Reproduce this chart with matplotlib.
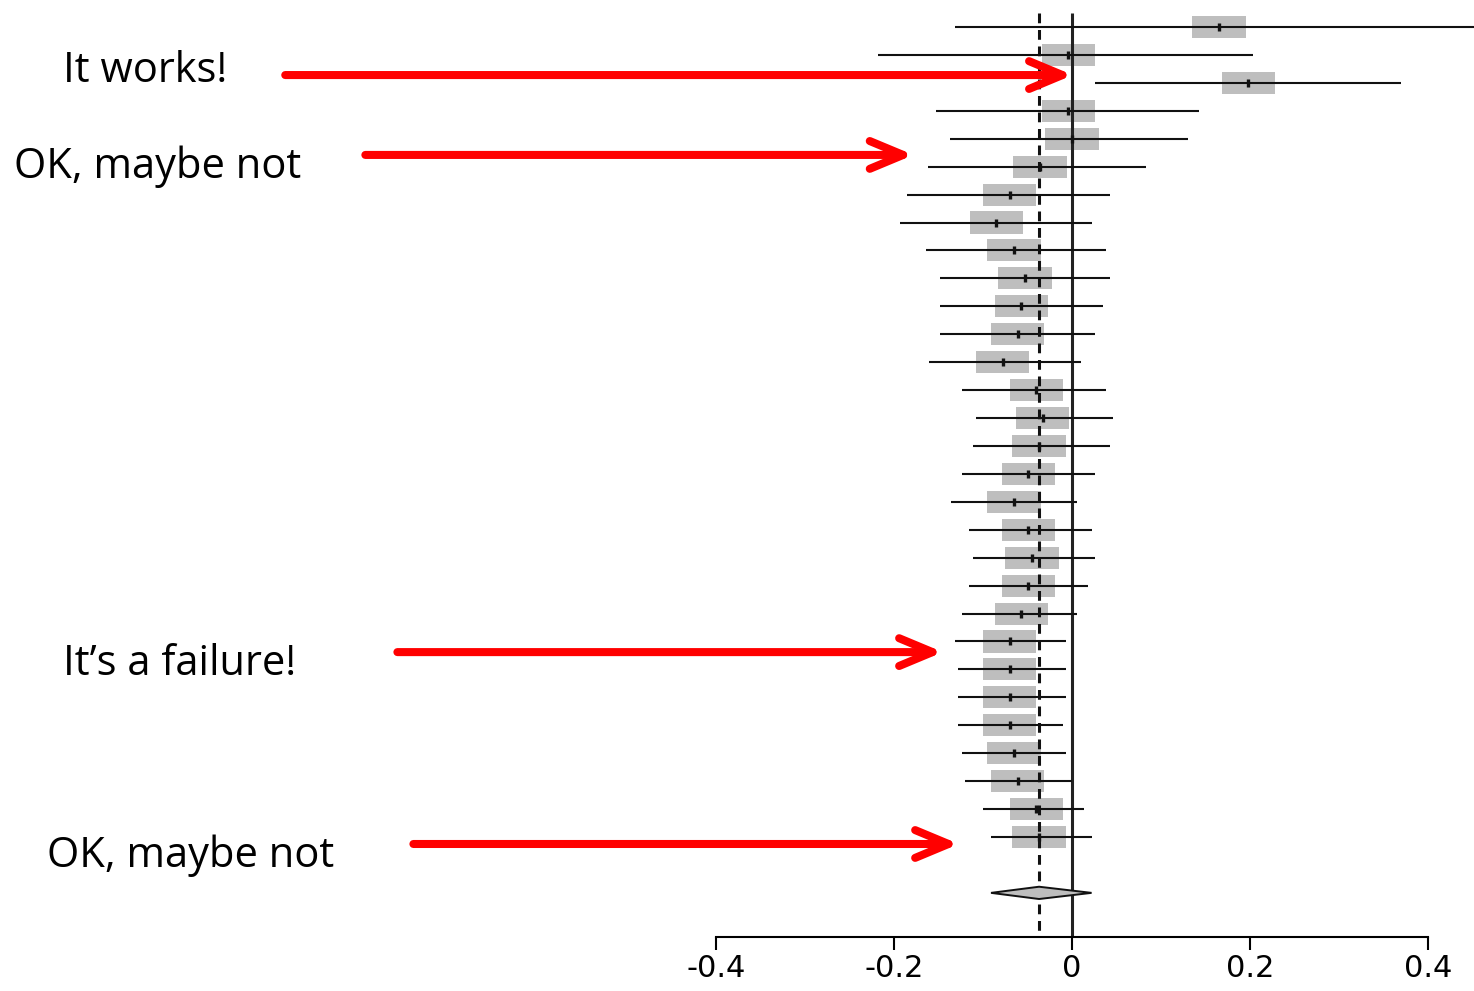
import numpy as np
import matplotlib
matplotlib.use("Agg")
import matplotlib.pyplot as plt
from matplotlib.patches import Rectangle, Polygon

plt.rcParams.update({"axes.unicode_minus": False, "font.family": "DejaVu Sans"})

# study estimates and 95% CIs, top to bottom (first upper limit runs off the page)
est = [0.165, -0.004, 0.198, -0.004, 0.000, -0.036, -0.070, -0.085, -0.065, -0.053,
       -0.057, -0.061, -0.078, -0.040, -0.033, -0.037, -0.049, -0.065, -0.049, -0.045,
       -0.049, -0.057, -0.070, -0.070, -0.070, -0.070, -0.065, -0.061, -0.040, -0.037]
lo = [-0.131, -0.218, 0.026, -0.153, -0.137, -0.162, -0.185, -0.193, -0.164, -0.148,
      -0.148, -0.148, -0.161, -0.124, -0.108, -0.111, -0.124, -0.136, -0.116, -0.111,
      -0.116, -0.124, -0.131, -0.128, -0.128, -0.128, -0.124, -0.120, -0.100, -0.091]
hi = [0.480, 0.203, 0.370, 0.143, 0.130, 0.083, 0.043, 0.022, 0.038, 0.043,
      0.035, 0.026, 0.010, 0.038, 0.046, 0.043, 0.026, 0.006, 0.022, 0.026,
      0.018, 0.006, -0.007, -0.007, -0.007, -0.010, -0.007, 0.000, 0.013, 0.022]
pooled = (-0.037, -0.091, 0.022)
ticks = [-0.4, -0.2, 0, 0.2, 0.4]
tick_labels = ["-0.4", "-0.2", "0", "0.2", "0.4"]

# annotations: label, label px (left, baseline), arrow row, tail x, tip x
notes = [("It works!", (63, 82), 1.72, -0.884, 0.001),
         ("OK, maybe not", (14, 178), 4.58, -0.794, -0.178),
         ("It\u2019s a failure!", (63, 675), 22.38, -0.758, -0.145),
         ("OK, maybe not", (47, 867), 29.25, -0.740, -0.127)]

W, H = 1474, 991
fig = plt.figure(figsize=(W/100, H/100), dpi=100)
ax = fig.add_axes([716/W, 1-937/H, 712/W, 937/H])
ax.set_xlim(-0.4, 0.4)
ax.set_ylim(32.58, -0.967)

rows = np.arange(len(est))
n_sum = len(est) + 1
bw, bh = 0.06, 0.79
for r, e in zip(rows, est):
    ax.add_patch(Rectangle((e-bw/2, r-bh/2), bw, bh, fc="#bebebe", ec="none", zorder=1))
ax.hlines(rows, lo, hi, color="#111111", lw=1.5, zorder=3, clip_on=False)
ax.plot(est, rows, ls="none", marker="|", ms=6, mew=2.4, color="#111111", zorder=4)

e, l, h = pooled
ax.add_patch(Polygon([(l, n_sum), (e, n_sum-0.22), (h, n_sum), (e, n_sum+0.22)],
                     closed=True, fc="#bebebe", ec="#111111", lw=1.4, zorder=3))

ax.vlines(0, -0.5, 32.58, color="#222222", lw=2.2, zorder=2)
ax.vlines(e, -0.5, 32.58, color="#111111", lw=2.2, ls=(0, (3.2, 2.2)), zorder=2)

for s in ["left", "right", "top"]:
    ax.spines[s].set_visible(False)
ax.spines["bottom"].set_linewidth(1.5)
ax.set_yticks([])
ax.set_xticks(ticks, tick_labels)
ax.tick_params(axis="x", direction="out", length=9.5, width=1.5, pad=3, labelsize=22)

for txt, (px, py), row, x0, x1 in notes:
    fig.text(px/W, 1-py/H, txt, fontsize=30, family="Open Sans", va="baseline", ha="left")
    ax.annotate("", xy=(x1, row), xytext=(x0, row), annotation_clip=False,
                arrowprops=dict(arrowstyle="->,head_length=24,head_width=10", mutation_scale=1,
                                lw=5.8, color="#ff0000", shrinkA=0, shrinkB=0,
                                capstyle="round", joinstyle="round"))

fig.savefig("out.png", dpi=100, facecolor="white")
